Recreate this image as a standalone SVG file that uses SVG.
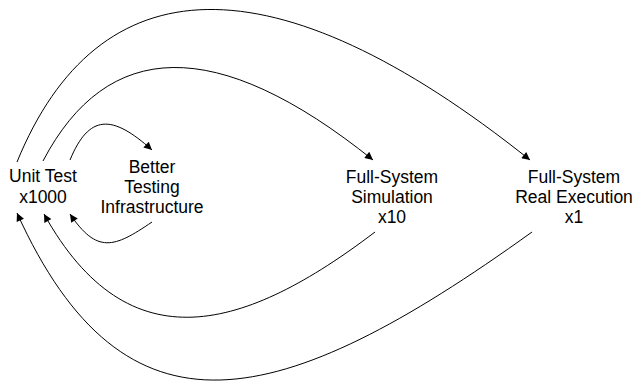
<svg xmlns="http://www.w3.org/2000/svg" width="636" height="381" viewBox="0 0 636 381">
<style>
text{font-family:"Liberation Sans",Arial,sans-serif;font-size:17.5px;fill:#000;text-anchor:middle}
.e{fill:none;stroke:#000;stroke-width:1;marker-end:url(#ah)}
</style>
<defs>
<marker id="ah" viewBox="0 0 10 10" refX="10" refY="5" markerWidth="11" markerHeight="8" markerUnits="userSpaceOnUse" orient="auto">
<path d="M0,0 L10,5 L0,10 z" fill="#000"/>
</marker>
</defs>
<rect width="636" height="381" fill="#fff"/>
<g id="connectors">
<path class="e" d="M17,162 C98,-36 272,-46 530,160"/>
<path class="e" d="M43,161 C107,39 216,34 373,160"/>
<path class="e" d="M70,160 C89,114 112,114 152,150"/>
<path class="e" d="M152,222 C114,248 97,254 70,214"/>
<path class="e" d="M375,232 C246,330 129,367 44,214"/>
<path class="e" d="M532,232 C279,414 125,451 17,213"/>
</g>
<g id="unit-test"><text x="43" y="182">Unit Test</text><text x="43" y="203">x1000</text></g>
<g id="better-testing"><text x="152" y="173">Better</text><text x="152" y="193">Testing</text><text x="152" y="213">Infrastructure</text></g>
<g id="full-system-sim"><text x="392" y="183">Full-System</text><text x="392" y="203">Simulation</text><text x="392" y="223">x10</text></g>
<g id="full-system-real"><text x="574" y="183">Full-System</text><text x="574" y="203">Real Execution</text><text x="574" y="223">x1</text></g>
</svg>
